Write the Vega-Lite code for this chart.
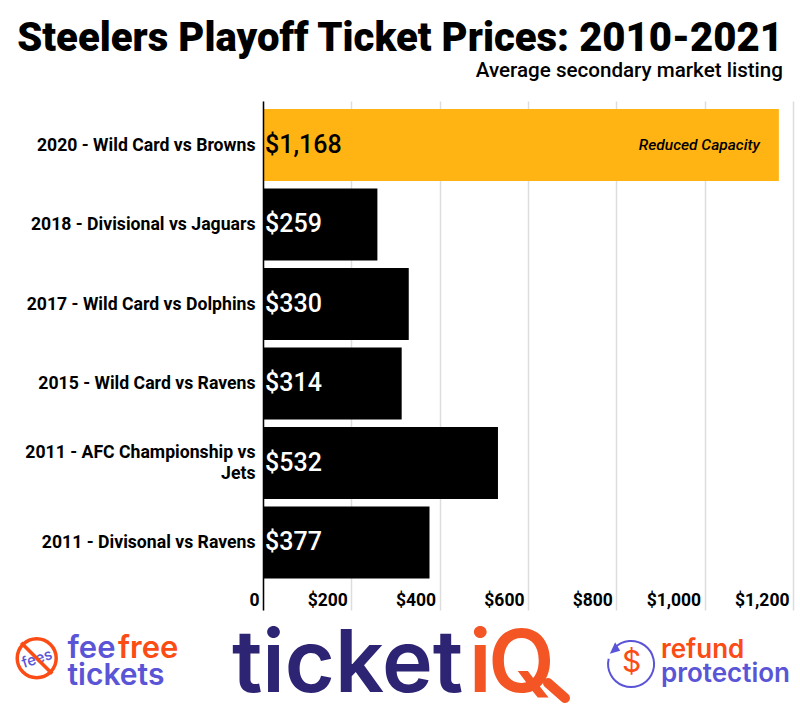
{
"$schema":"https://vega.github.io/schema/vega-lite/v6.json",
"width":530,"height":509,
"autosize":{"type":"none"},
"padding":{"left":263,"top":101,"right":7,"bottom":100},
"background":"white",
"title":{"text":"Steelers Playoff Ticket Prices: 2010-2021","subtitle":"Average secondary market listing","anchor":"end","frame":"group","dx":-10,"font":"Roboto","fontSize":40.1,"fontWeight":900,"color":"#000","subtitleFont":"Roboto","subtitleFontSize":20.6,"subtitleFontWeight":500,"subtitleColor":"#000","subtitlePadding":2,"offset":19},
"config":{"view":{"stroke":null}},
"datasets":{
 "logos":[{"logo":"feefree tickets"},{"logo":"ticketiQ"},{"logo":"refund protection"}],
 "games":[
 {"game":"2020 - Wild Card vs Browns","price":1168,"status":"Reduced capacity"},
 {"game":"2018 - Divisional vs Jaguars","price":259,"status":"Full capacity"},
 {"game":"2017 - Wild Card vs Dolphins","price":330,"status":"Full capacity"},
 {"game":"2015 - Wild Card vs Ravens","price":314,"status":"Full capacity"},
 {"game":"2011 - AFC Championship vs Jets","price":532,"status":"Full capacity"},
 {"game":"2011 - Divisonal vs Ravens","price":377,"status":"Full capacity"}]
},
"resolve":{"scale":{"x":"independent","color":"independent"},"axis":{"x":"independent"}},
"layer":[
{
 "data":{"name":"games"},
 "encoding":{
  "y":{"field":"game","type":"nominal","sort":null,"title":null,
   "scale":{"paddingInner":0.094,"paddingOuter":0.248,"align":0.2},
   "axis":{"domain":true,"domainColor":"#000","domainWidth":1.5,"ticks":false,"labelFont":"Roboto","labelFontSize":17.65,"labelFontWeight":700,"labelColor":"#000","labelPadding":8,"labelLimit":260,"labelLineHeight":21,"zindex":1,"labelOffset":{"condition":{"test":"datum.value=='2011 - AFC Championship vs Jets'","value":-10},"value":1},"labelExpr":"datum.value=='2011 - AFC Championship vs Jets'?['2011 - AFC Championship vs','Jets']:datum.value"}},
  "x":{"field":"price","type":"quantitative","title":null,
   "scale":{"domain":[0,1200],"nice":false},
   "axis":{"values":[0,200,400,600,800,1000,1200],"domain":false,"ticks":false,"grid":true,"gridColor":"#dddddd","gridWidth":1.5,"labelFont":"Roboto","labelFontSize":17.5,"labelFontWeight":700,"labelColor":"#000","labelAlign":"right","labelBaseline":"top","labelPadding":-19,"labelOffset":-4,"labelFlush":false,"labelBound":false,"labelOverlap":false,"labelExpr":"datum.value==0?'0':'$'+format(datum.value,',')"}}
 },
 "layer":[
  {"mark":{"type":"bar"},"encoding":{"color":{"field":"status","type":"nominal","legend":null,"scale":{"domain":["Reduced capacity","Full capacity"],"range":["#ffb414","#000000"]}}}},
  {"transform":[{"filter":"datum.status=='Reduced capacity'"}],
   "mark":{"type":"text","align":"left","baseline":"middle","dx":2,"font":"Roboto","fontSize":25,"fontWeight":500,"color":"#000"},
   "encoding":{"x":{"datum":0},"text":{"field":"price","type":"quantitative","format":"$,"}}},
  {"transform":[{"filter":"datum.status=='Full capacity'"}],
   "mark":{"type":"text","align":"left","baseline":"middle","dx":2,"font":"Roboto","fontSize":25,"fontWeight":500,"color":"#fff"},
   "encoding":{"x":{"datum":0},"text":{"field":"price","type":"quantitative","format":"$,"}}},
  {"transform":[{"filter":"datum.status=='Reduced capacity'"}],
   "mark":{"type":"text","align":"right","baseline":"middle","dx":-19,"font":"Roboto","fontSize":15.5,"fontStyle":"italic","fontWeight":500,"color":"#000","text":"Reduced Capacity"},
   "encoding":{}}
 ]
},
{
 "data":{"name":"logos"},
 "encoding":{"x":{"field":"logo","type":"nominal","sort":null,"axis":null,"scale":{"domain":["feefree tickets","ticketiQ","refund protection"],"range":[-163,437],"padding":0}}},
 "layer":[
  {"transform":[{"filter":"datum.logo=='feefree tickets'"}],"layer":[
   {"mark":{"type":"point","shape":"circle","size":1520,"filled":false,"stroke":"#fa4c14","strokeWidth":3.5,"opacity":1,"xOffset":-63.3,"yOffset":302.8}},
   {"mark":{"type":"text","text":"fees","angle":-18,"font":"Inter","fontWeight":500,"fontSize":15,"color":"#5a55d6","align":"center","baseline":"middle","xOffset":-63,"yOffset":303}},
   {"mark":{"type":"point","shape":"M-1,-1L1,1","size":961,"filled":false,"stroke":"#fa4c14","strokeWidth":3.5,"opacity":1,"xOffset":-63.3,"yOffset":302.8}},
   {"mark":{"type":"text","text":"fee","align":"left","baseline":"alphabetic","font":"Inter","fontWeight":600,"fontSize":31,"color":"#5a55d6","xOffset":-32.5,"yOffset":302.2}},
   {"mark":{"type":"text","text":"free","align":"left","baseline":"alphabetic","font":"Inter","fontWeight":600,"fontSize":31,"color":"#fa4c14","xOffset":18,"yOffset":302.2}},
   {"mark":{"type":"text","text":"tickets","align":"left","baseline":"alphabetic","font":"Inter","fontWeight":600,"fontSize":30,"color":"#5a55d6","xOffset":-32.5,"yOffset":329.5}}
  ]},
  {"transform":[{"filter":"datum.logo=='ticketiQ'"}],"layer":[
   {"mark":{"type":"text","text":"ticket","align":"left","baseline":"alphabetic","font":"Inter","fontWeight":600,"fontSize":86,"color":"#2d2473","xOffset":-168,"yOffset":336.2}},
   {"mark":{"type":"text","text":"i","align":"left","baseline":"alphabetic","font":"Inter","fontWeight":600,"fontSize":86,"color":"#f45524","xOffset":69,"yOffset":336.2}},
   {"mark":{"type":"text","text":"Q","align":"center","baseline":"alphabetic","font":"Inter","fontWeight":600,"fontSize":86,"color":"#f45524","xOffset":121.5,"yOffset":336.2}},
   {"mark":{"type":"point","shape":"M-1,-0.88L1,0.88","size":289,"filled":false,"stroke":"#f45524","strokeWidth":10,"strokeCap":"round","opacity":1,"xOffset":156.5,"yOffset":335}}
  ]},
  {"transform":[{"filter":"datum.logo=='refund protection'"}],"layer":[
   {"mark":{"type":"point","shape":"M-0.75,-0.66A1,1 0 1 1 -1,-0.2","size":2116,"filled":false,"stroke":"#5a55d6","strokeWidth":2,"opacity":1,"xOffset":-68.3,"yOffset":307.8}},
   {"mark":{"type":"point","shape":"M-0.95,-0.42L-0.5,-0.55L-0.72,-0.92Z","size":2116,"filled":true,"fill":"#5a55d6","opacity":1,"xOffset":-68.3,"yOffset":307.8}},
   {"mark":{"type":"text","text":"$","align":"center","font":"Inter","fontSize":30,"color":"#fa4c14","baseline":"middle","xOffset":-68.3,"yOffset":307.8}},
   {"mark":{"type":"text","text":"refund","align":"left","baseline":"alphabetic","font":"Inter","fontWeight":600,"fontSize":26,"color":"#fa4c14","xOffset":-39,"yOffset":302.5}},
   {"mark":{"type":"text","text":"protection","align":"left","baseline":"alphabetic","font":"Inter","fontWeight":600,"fontSize":26,"color":"#5a55d6","xOffset":-39,"yOffset":326.2}}
  ]}
 ]
}
]
}
